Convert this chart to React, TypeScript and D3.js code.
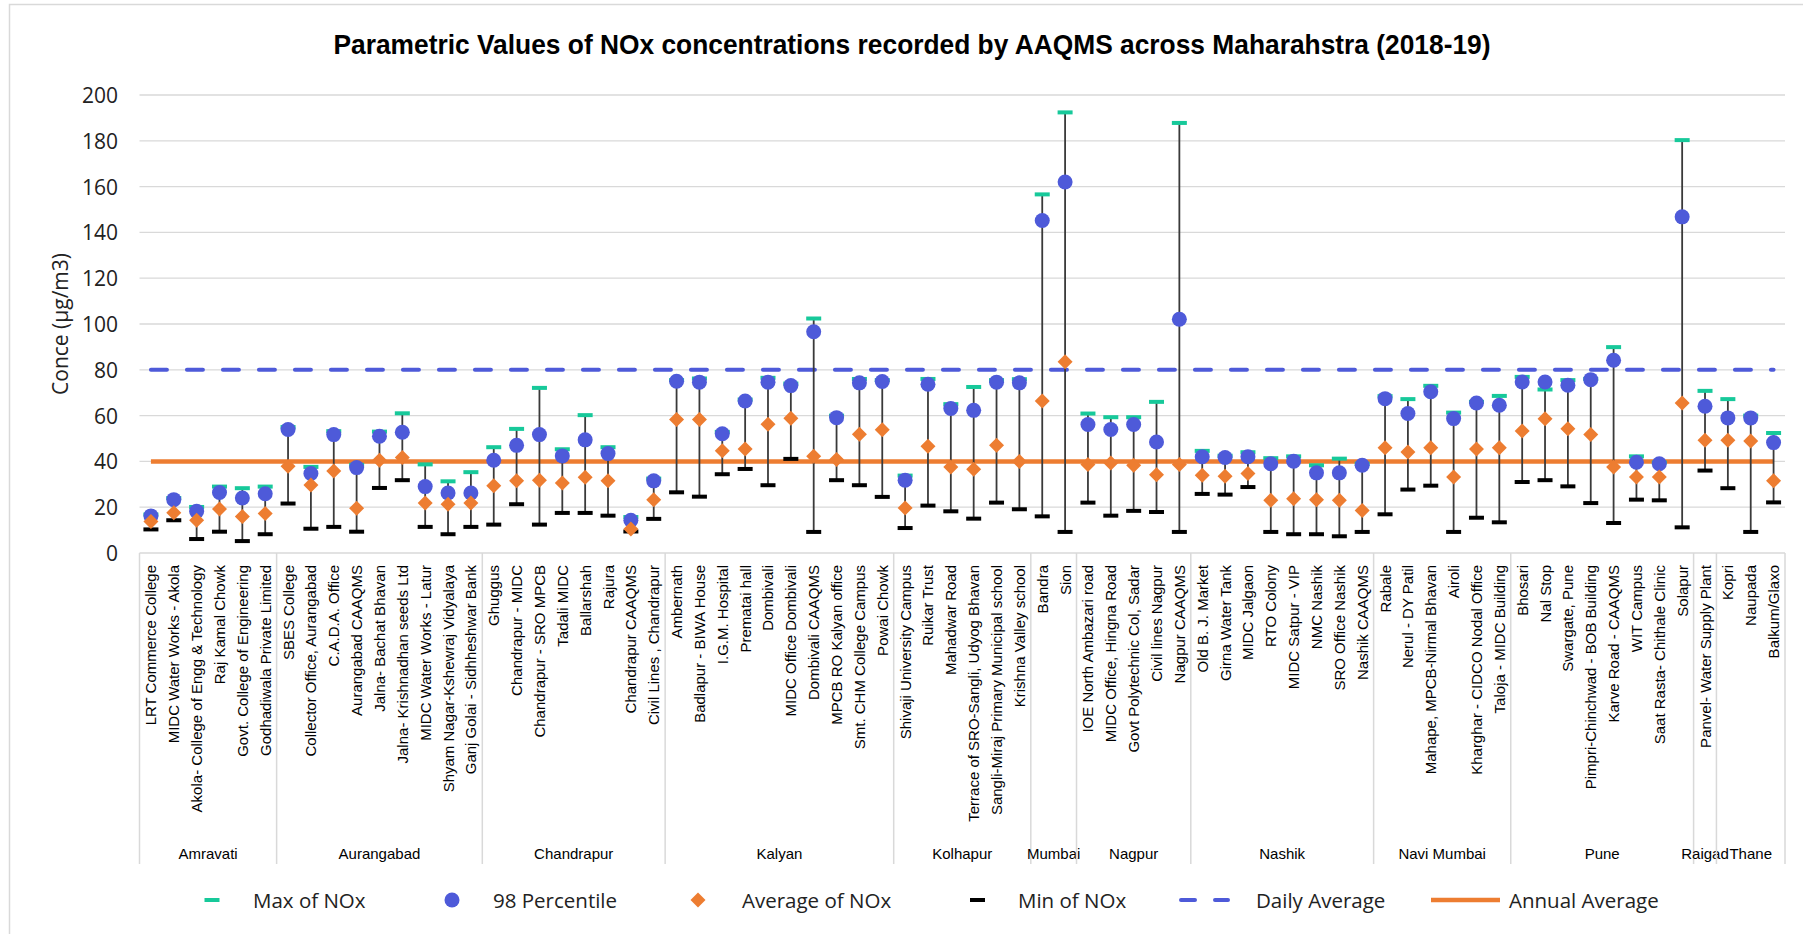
import React from "react";
import * as d3 from "d3";

const stations = [
  "LRT Commerce College", "MIDC Water Works - Akola", "Akola- College of Engg & Technology", "Raj Kamal Chowk", "Govt. College of Engineering", "Godhadiwala Private Limited",
  "SBES College", "Collector Office, Aurangabad", "C.A.D.A. Office", "Aurangabad CAAQMS", "Jalna- Bachat Bhavan", "Jalna- Krishnadhan seeds Ltd", "MIDC Water Works - Latur", "Shyam Nagar-Kshewraj Vidyalaya", "Ganj Golai - Sidhheshwar Bank",
  "Ghuggus", "Chandrapur - MIDC", "Chandrapur - SRO MPCB", "Tadali MIDC", "Ballarshah", "Rajura", "Chandrapur CAAQMS", "Civil Lines , Chandrapur",
  "Ambernath", "Badlapur - BIWA House", "I.G.M. Hospital", "Prematai hall", "Dombivali", "MIDC Office Dombivali", "Dombivali CAAQMS", "MPCB RO Kalyan office", "Smt. CHM College Campus", "Powai Chowk",
  "Shivaji University Campus", "Ruikar Trust", "Mahadwar Road", "Terrace of SRO-Sangli, Udyog Bhavan", "Sangli-Miraj Primary Municipal school", "Krishna Valley school",
  "Bandra", "Sion",
  "IOE North Ambazari road", "MIDC Office, Hingna Road", "Govt Polytechnic Col, Sadar", "Civil lines Nagpur", "Nagpur CAAQMS",
  "Old B. J. Market", "Girna Water Tank", "MIDC Jalgaon", "RTO Colony", "MIDC Satpur - VIP", "NMC Nashik", "SRO Office Nashik", "Nashik CAAQMS",
  "Rabale", "Nerul - DY Patil", "Mahape, MPCB-Nirmal Bhavan", "Airoli", "Kharghar - CIDCO Nodal Office", "Taloja - MIDC Building",
  "Bhosari", "Nal Stop", "Swargate, Pune", "Pimpri-Chinchwad - BOB Building", "Karve Road - CAAQMS", "WIT Campus", "Saat Rasta- Chithale Clinic", "Solapur",
  "Panvel- Water Supply Plant",
  "Kopri", "Naupada", "Balkum/Glaxo",
];

const regions = ["Amravati", "Aurangabad", "Chandrapur", "Kalyan", "Kolhapur", "Mumbai", "Nagpur", "Nashik", "Navi Mumbai", "Pune", "Raigad", "Thane"];
const regionCounts = [6, 9, 8, 10, 6, 2, 5, 8, 6, 8, 1, 3];

const maxNOx = [
  16.8, 24, 20.1, 29, 28.3, 29,
  55, 37.6, 53.2, 38.5, 53, 61, 38.7, 31.3, 35.3,
  46.2, 54.2, 72.1, 45.3, 60.2, 46.2, 15.7, 32.5,
  75.5, 76.2, 52.9, 67, 76.5, 74, 102.4, 60, 76, 75.5,
  33.8, 76, 65, 72.5, 75.5, 75.9,
  156.6, 192.4,
  60.9, 59.3, 59.3, 66, 187.8,
  44.6, 42.5, 44, 41.4, 42.2, 38.3, 41.2, 39,
  68.5, 67.2, 73, 61.3, 66, 68.6,
  76.9, 71.4, 75.5, 76, 89.9, 42.2, 39.5, 180.3,
  70.8,
  67.2, 60, 52.4,
];
const pct98 = [
  16.2, 23.3, 18.2, 26.4, 24, 25.9,
  53.9, 34.7, 51.7, 37.3, 51, 52.7, 29, 26.2, 26.2,
  40.5, 47, 51.7, 42.4, 49.4, 43.4, 14.3, 31.5,
  75, 74.6, 52.1, 66.4, 74.6, 73.1, 96.6, 59.1, 74.3, 74.9,
  31.8, 73.7, 63.1, 62.3, 74.6, 74.3,
  145.2, 162,
  56.1, 53.9, 56.1, 48.5, 102.1,
  42, 41.7, 42, 39, 40.1, 35, 35, 38.3,
  67.4, 60.9, 70.4, 58.7, 65.5, 64.5,
  74.7, 74.7, 73.3, 75.7, 84.2, 39.6, 39, 146.8,
  64.1,
  59, 59, 48.2,
];
const avgNOx = [
  13.8, 17.6, 14.3, 19.2, 15.9, 17.2,
  37.9, 29.7, 35.8, 19.5, 40.5, 41.7, 21.8, 21.3, 21.8,
  29.4, 31.5, 31.8, 30.6, 33.1, 31.5, 10.5, 23.3,
  58.3, 58.3, 44.6, 45.4, 56.2, 58.8, 42.2, 40.8, 51.9, 53.8,
  19.7, 46.6, 37.6, 36.6, 47, 40,
  66.4, 83.5,
  38.7, 39.3, 38.3, 34.2, 38.6,
  33.9, 33.5, 34.7, 23, 23.7, 23.3, 23, 18.6,
  46, 44.1, 46, 33.2, 45.4, 46,
  53.3, 58.6, 54.3, 51.7, 37.6, 33.2, 33.2, 65.5,
  49.2,
  49.2, 48.9, 31.5,
];
const minNOx = [
  10.3, 14.3, 6.1, 9.3, 5.2, 8.2,
  21.6, 10.6, 11.4, 9.3, 28.4, 31.8, 11.4, 8.2, 11.4,
  12.4, 21.3, 12.4, 17.5, 17.5, 16.3, 9.4, 14.9,
  26.5, 24.6, 34.4, 36.7, 29.6, 41.1, 9.2, 31.8, 29.6, 24.5,
  10.9, 20.7, 18.2, 15, 22, 19.1,
  16, 9.2,
  22, 16.3, 18.4, 17.9, 9.2,
  25.8, 25.5, 28.8, 9.2, 8.2, 8.2, 7.3, 9.2,
  16.9, 27.7, 29.4, 9.2, 15.4, 13.4,
  31, 31.8, 29.1, 21.8, 13.1, 23.3, 23, 11.2,
  36,
  28.3, 9.2, 22.1,
];
const yTicks = [0, 20, 40, 60, 80, 100, 120, 140, 160, 180, 200];
const dailyAverage = 80;
const annualAverage = 40;

const W = 1803;
const H = 934;
const BLUE = "#4E5AD9";
const ORANGE = "#ED7D31";
const GREEN = "#17C99A";
const GRID = "#D9D9D9";
const SANS = "'Open Sans', sans-serif";
const ARIAL = "'Liberation Sans', Arial, sans-serif";

export default function App() {
  const x = d3.scaleBand<string>().domain(stations).range([139.5, 1785]).padding(0);
  const y = d3.scaleLinear().domain([0, 200]).range([553, 95]);
  const bw = x.bandwidth();
  const cx = (s: string) => (x(s) as number) + bw / 2;
  const x0 = cx(stations[0]);
  const x1 = cx(stations[stations.length - 1]);

  const groupBounds: { name: string; start: number; end: number }[] = [];
  let idx = 0;
  regions.forEach((r, i) => {
    const s = x(stations[idx]) as number;
    const e = (x(stations[idx + regionCounts[i] - 1]) as number) + bw;
    groupBounds.push({ name: r, start: s, end: e });
    idx += regionCounts[i];
  });

  const diamond = (px: number, py: number, r: number) =>
    `M${px},${py - r}L${px + r},${py}L${px},${py + r}L${px - r},${py}Z`;

  const legendY = 900;

  return (
    <svg width={W} height={H} style={{ position: "absolute", left: 0, top: 0, display: "block", background: "#fff" }}>
      <rect x={9.5} y={4.5} width={W} height={H + 10} fill="#fff" stroke={GRID} strokeWidth={1.5} />
      <text x={912} y={44} textAnchor="middle" dominantBaseline="central" fontFamily="'Liberation Sans Narrow', 'Liberation Sans', Arial, sans-serif" fontWeight="bold" fontSize={28} textLength={1157} lengthAdjust="spacingAndGlyphs" fill="#000">
        Parametric Values of NOx concentrations recorded by AAQMS across Maharahstra (2018-19)
      </text>

      {yTicks.map((t) => (
        <g key={t}>
          <line x1={139.5} x2={1785} y1={y(t)} y2={y(t)} stroke={GRID} strokeWidth={1.3} />
          <text x={118} y={y(t)} textAnchor="end" dominantBaseline="central" fontFamily={SANS} fontSize={21} fill="#222">
            {t}
          </text>
        </g>
      ))}
      <text transform={`translate(60,324) rotate(-90)`} textAnchor="middle" dominantBaseline="central" fontFamily={SANS} fontSize={21} fill="#222">
        Conce (µg/m3)
      </text>

      {groupBounds.map((g, i) => (
        <g key={g.name}>
          <line x1={g.start} x2={g.start} y1={553} y2={864} stroke={GRID} strokeWidth={1.5} />
          {i === groupBounds.length - 1 && <line x1={g.end} x2={g.end} y1={553} y2={864} stroke={GRID} strokeWidth={1.5} />}
          <text x={(g.start + g.end) / 2} y={853} textAnchor="middle" dominantBaseline="central" fontFamily={ARIAL} fontSize={15} fill="#000">
            {g.name}
          </text>
        </g>
      ))}

      {stations.map((s) => (
        <text key={s} transform={`translate(${cx(s)},565) rotate(-90)`} textAnchor="end" dominantBaseline="central" fontFamily={ARIAL} fontSize={15} fill="#000">
          {s}
        </text>
      ))}

      <line x1={x0} x2={x1} y1={y(annualAverage)} y2={y(annualAverage)} stroke={ORANGE} strokeWidth={4.5} />
      <line x1={x0} x2={x1} y1={y(dailyAverage)} y2={y(dailyAverage)} stroke={BLUE} strokeWidth={4} strokeDasharray="16 20" strokeLinecap="round" />

      {stations.map((s, i) => {
        const px = cx(s);
        const top = Math.max(maxNOx[i], pct98[i]);
        return (
          <g key={s}>
            <line x1={px} x2={px} y1={y(minNOx[i])} y2={y(top)} stroke="#3A3A3A" strokeWidth={1.8} />
            <rect x={px - 7.5} y={y(maxNOx[i]) - 2} width={15} height={4} fill={GREEN} />
            <rect x={px - 7.5} y={y(minNOx[i]) - 2} width={15} height={4} fill="#000" />
            <circle cx={px} cy={y(pct98[i])} r={7.5} fill={BLUE} />
            <path d={diamond(px, y(avgNOx[i]), 7.5)} fill={ORANGE} />
          </g>
        );
      })}

      <g fontFamily={SANS} fontSize={20.5} fill="#222">
        <rect x={204.5} y={legendY - 2} width={15} height={4} fill={GREEN} />
        <text x={253} y={legendY} dominantBaseline="central">Max of NOx</text>
        <circle cx={452} cy={legendY} r={7.5} fill={BLUE} />
        <text x={493} y={legendY} dominantBaseline="central">98 Percentile</text>
        <path d={diamond(698, legendY, 7.5)} fill={ORANGE} />
        <text x={742} y={legendY} dominantBaseline="central">Average of NOx</text>
        <rect x={970} y={legendY - 2} width={15} height={4} fill="#000" />
        <text x={1018} y={legendY} dominantBaseline="central">Min of NOx</text>
        <line x1={1181} x2={1228} y1={legendY} y2={legendY} stroke={BLUE} strokeWidth={4} strokeDasharray="14 20" strokeLinecap="round" />
        <text x={1256} y={legendY} dominantBaseline="central">Daily Average</text>
        <line x1={1431} x2={1500} y1={legendY} y2={legendY} stroke={ORANGE} strokeWidth={4.5} />
        <text x={1509} y={legendY} dominantBaseline="central">Annual Average</text>
      </g>
    </svg>
  );
}
